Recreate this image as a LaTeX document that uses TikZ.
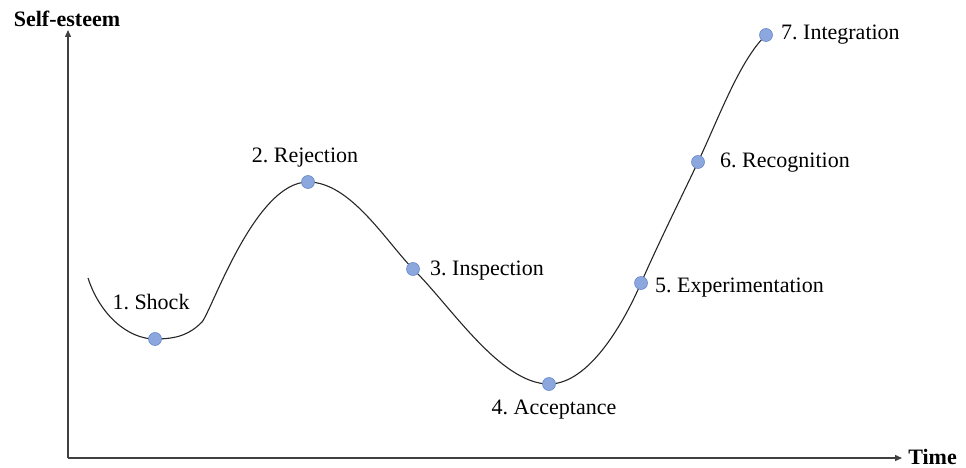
\documentclass[tikz,border=0pt]{standalone}
\usepackage{fontspec}
\setmainfont{Liberation Serif}
\usetikzlibrary{arrows.meta}
\definecolor{dotfill}{RGB}{140,167,222}
\definecolor{dotedge}{RGB}{105,136,205}
\begin{document}
\frenchspacing
\begin{tikzpicture}[x=1pt,y=-1pt,
  axis/.style={draw=black!75,line width=1.3pt,-{Triangle[length=7pt,width=6pt]}},
  curveline/.style={draw=black!85,line width=1.1pt},
  dot/.style={circle,fill=dotfill,draw=dotedge,line width=0.6pt,inner sep=0pt,minimum size=13pt},
  lbl/.style={font=\fontsize{22}{25}\selectfont,inner sep=0pt},
  axlbl/.style={font=\fontsize{22}{25}\selectfont\bfseries,inner sep=0pt}]
\useasboundingbox (0,0) rectangle (966,468);
\coordinate (o) at (68,458);
\coordinate (ytop) at (68,30);
\coordinate (xend) at (902,458);
\node[axlbl] (ylab) at (67,19) {Self-esteem};
\node[axlbl,anchor=east] (xlab) at (957,457) {Time};
\draw[axis] (o) -- (ytop);
\draw[axis] (o) -- (xend);
\coordinate (s) at (88,278);
\coordinate (p1) at (155,339);
\coordinate (k) at (202,322);
\coordinate (p2) at (308,182);
\coordinate (p3) at (413,269);
\coordinate (p4) at (549,384);
\coordinate (p5) at (641,283);
\coordinate (p6) at (698,162);
\coordinate (p7) at (766,35);
\draw[curveline] (s) .. controls (100,315) and (128,339) .. (p1)
  .. controls (178,339) and (190,334) .. (k)
  .. controls (212,310) and (255,182) .. (p2)
  .. controls (350,182) and (385,240) .. (p3)
  .. controls (450,305) and (500,384) .. (p4)
  .. controls (590,384) and (625,320) .. (p5)
  .. controls (660,240) and (680,200) .. (p6)
  .. controls (720,115) and (740,60) .. (p7);
\foreach \i in {1,...,7} {\node[dot] (d\i) at (p\i) {};}
\node[lbl] (l1) at (151,302) {1. Shock};
\node[lbl] (l2) at (305,158) {2. Rejection};
\node[lbl,anchor=west] (l3) at (430,271) {3. Inspection};
\node[lbl] (l4) at (554,410) {4. Acceptance};
\node[lbl,anchor=west] (l5) at (655,288) {5. Experimentation};
\node[lbl,anchor=west] (l6) at (720,163) {6. Recognition};
\node[lbl,anchor=west] (l7) at (781,35) {7. Integration};
\end{tikzpicture}
\end{document}
